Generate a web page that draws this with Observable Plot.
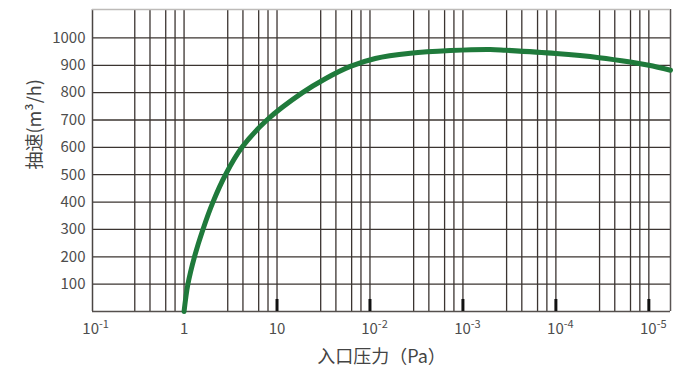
<!DOCTYPE html>
<html><head><meta charset="utf-8">
<script src="https://cdn.jsdelivr.net/npm/d3@7"></script>
<script src="https://cdn.jsdelivr.net/npm/@observablehq/plot@0.6"></script>
<style>body{margin:0;background:#fff}</style>
</head><body><div id="chart"></div>
<script>
// Curve: inlet pressure (axis units) vs pumping speed (m³/h)
const pressure = [1.0, 1.10, 1.294, 1.596, 2.046, 2.79, 4.2, 7.79, 18.8, 33.1, 61.5, 114, 272, 731, 1968, 2910, 10000, 29200, 63000, 100000, 171000];
const speed    = [0,   100,  200,   300,   400,   500,  600, 700,  800,  851,  896,  925, 944, 954, 958,  955,  943,   928,   912,   900,    882];

const xTickValues = [0.1, 1, 10, 100, 1000, 10000, 100000];
const xTickBase   = ["10", "1", "10", "10", "10", "10", "10"];
const xTickExp    = ["-1", "", "", "-2", "-3", "-4", "-5"];
const yTickValues = [100, 200, 300, 400, 500, 600, 700, 800, 900, 1000];

const gridDecades   = [0.1, 1, 10, 100, 1000, 10000, 100000];
const gridMantissas = [1, 2.95, 4.3, 6.35, 8];
const decadeMarks   = [10, 100, 1000, 10000, 100000];

const xLabel = "入口压力（Pa）";
const yLabel = "抽速(m³/h)";

const xDomain = [10 ** -0.985, 10 ** 5.233];
const yDomain = [0, 1104];

const curve = pressure.map((p, i) => ({p, s: speed[i]}));
const gridX = gridDecades.flatMap(d => gridMantissas.map(m => m * d))
  .filter(v => v > xDomain[0] * 1.01 && v < xDomain[1]);

const gridColor = "#3b3431";

const chart = Plot.plot({
  width: 700, height: 376,
  marginLeft: 92, marginRight: 30, marginTop: 9, marginBottom: 65,
  style: {fontFamily: '"Noto Sans CJK SC", "Noto Sans", sans-serif', background: "#fff", color: "#4d4d4d"},
  x: {type: "log", domain: xDomain},
  y: {domain: yDomain},
  marks: [
    Plot.ruleX(gridX, {stroke: gridColor, strokeWidth: 1.3}),
    Plot.ruleY(yTickValues, {stroke: gridColor, strokeWidth: 1.3}),
    Plot.ruleX([xDomain[0]], {stroke: "#4a4543", strokeWidth: 1.5}),
    Plot.ruleX([xDomain[1]], {stroke: "#5a5553", strokeWidth: 1.5}),
    Plot.ruleY([yDomain[1]], {stroke: "#bdbab8", strokeWidth: 1.5}),
    Plot.ruleY([0], {stroke: "#55504e", strokeWidth: 1.5}),
    Plot.ruleX(decadeMarks, {y1: 0, y2: 44, stroke: "#111", strokeWidth: 3}),
    Plot.line(curve, {x: "p", y: "s", stroke: "#1f7a3b", strokeWidth: 5, curve: "catmull-rom"}),
    Plot.axisX({ticks: xTickValues, tickSize: 0, tickPadding: 12, fontSize: 15, label: null,
      tickFormat: v => xTickBase[xTickValues.indexOf(v)]}),
    Plot.axisY({ticks: yTickValues, tickSize: 0, tickPadding: 7, fontSize: 15, label: null,
      tickFormat: d => String(d)}),
    Plot.text([xLabel], {text: d => d, frameAnchor: "bottom", dy: 51, fontSize: 18, fill: "#444"}),
    Plot.text([yLabel], {text: d => d, frameAnchor: "left", dx: -57, dy: 9, rotate: -90, fontSize: 18, fill: "#444"})
  ]
});

document.getElementById("chart").appendChild(chart);

// superscript exponents on x tick labels
const xl = d3.select(chart).selectAll('g[aria-label="x-axis tick label"] text').nodes();
xl.forEach((node, i) => {
  const exp = xTickExp[i];
  if (exp) {
    const t = d3.select(node);
    t.append("tspan").attr("dy", "-6").attr("font-size", "11px").text(exp);
    t.attr("dx", 4.5);
  }
});
</script>
</body></html>
